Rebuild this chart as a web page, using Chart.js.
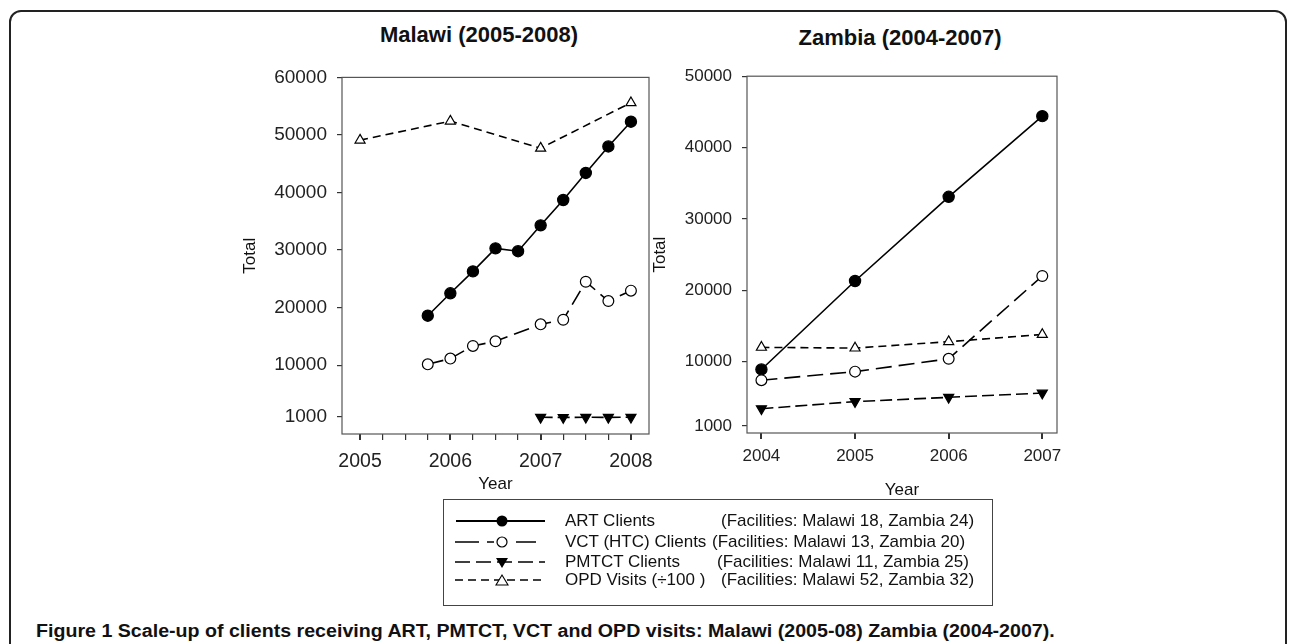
<!DOCTYPE html>
<html lang="en">
<head>
<meta charset="UTF-8" />
<title>Figure 1 - Malawi / Zambia scale-up</title>
<script src="https://cdn.jsdelivr.net/npm/chart.js"></script>
<style>
  body {
    margin: 0;
    width: 1290px;
    height: 644px;
    background: #fff;
    position: relative;
    overflow: hidden;
    font-family: 'Liberation Sans', Arial, sans-serif;
    color: #111;
  }
  .frame {
    position: absolute;
    left: 9px; top: 10px;
    width: 1278px; height: 720px;
    border: 2px solid #222;
    border-radius: 12px;
    box-sizing: border-box;
  }
  .title {
    position: absolute;
    font-weight: bold;
    font-size: 22px;
    line-height: 26px;
    white-space: nowrap;
    transform: translateX(-50%);
  }
  canvas { position: absolute; }
  #legend {
    position: absolute;
    left: 443px; top: 499px;
    width: 550px; height: 107px;
    border: 1.5px solid #444;
    box-sizing: border-box;
  }
  .row { position: absolute; left: 0; width: 100%; height: 20px; font-size: 17px; line-height: 20px; white-space: nowrap; }
  .row svg { position: absolute; left: 10px; top: 0; }
  .row .lab { position: absolute; left: 121px; }
  #caption {
    position: absolute;
    left: 36px; top: 619px;
    font-size: 18px;
    line-height: 24px;
    font-weight: bold;
    white-space: nowrap;
    transform-origin: left center;
  }
</style>
</head>
<body>

<div class="frame"></div>
<div class="title" style="left:479px; top:22px;">Malawi (2005-2008)</div>
<div class="title" style="left:900px; top:25px;">Zambia (2004-2007)</div>

<canvas id="malawiChart" width="433" height="442" style="left:237px; top:56px;"></canvas>
<canvas id="zambiaChart" width="428" height="448" style="left:647px; top:56px;"></canvas>

<div id="legend">
  <div class="row" style="top:11px;">
    <svg width="92" height="20"><line x1="2" y1="10" x2="91" y2="10" stroke="#000" stroke-width="2"/><circle cx="48" cy="10" r="5.5" fill="#000"/></svg>
    <span class="lab">ART Clients</span><span class="lab" style="left:277px;">(Facilities: Malawi 18, Zambia 24)</span>
  </div>
  <div class="row" style="top:32px;">
    <svg width="92" height="20"><line x1="1" y1="10" x2="82" y2="10" stroke="#000" stroke-width="1.6" stroke-dasharray="24,8,7,22,22"/><circle cx="48" cy="10" r="5" fill="#fff" stroke="#000" stroke-width="1.2"/></svg>
    <span class="lab">VCT (HTC) Clients</span><span class="lab" style="left:268px;">(Facilities: Malawi 13, Zambia 20)</span>
  </div>
  <div class="row" style="top:52px;">
    <svg width="92" height="20"><line x1="1" y1="10" x2="91" y2="10" stroke="#000" stroke-width="1.6" stroke-dasharray="15,6"/><path d="M42,6 L54,6 L48,16 Z" fill="#000"/></svg>
    <span class="lab">PMTCT Clients</span><span class="lab" style="left:273px;">(Facilities: Malawi 11, Zambia 25)</span>
  </div>
  <div class="row" style="top:70px;">
    <svg width="92" height="20"><line x1="1" y1="10" x2="91" y2="10" stroke="#000" stroke-width="1.6" stroke-dasharray="8,5"/><path d="M42,15 L54,15 L48,5 Z" fill="#fff" stroke="#000" stroke-width="1.1"/></svg>
    <span class="lab">OPD Visits (÷100 )</span><span class="lab" style="left:277px;">(Facilities: Malawi 52, Zambia 32)</span>
  </div>
</div>

<div id="caption">Figure 1 Scale-up of clients receiving ART, PMTCT, VCT and OPD visits: Malawi (2005-08) Zambia (2004-2007).</div>

<script>
  // ---- Malawi (2005-2008), quarterly
  const malawiArtX   = [2005.75, 2006, 2006.25, 2006.5, 2006.75, 2007, 2007.25, 2007.5, 2007.75, 2008];
  const malawiArt    = [18600, 22500, 26300, 30300, 29800, 34300, 38700, 43400, 48000, 52300];
  const malawiVctX   = [2005.75, 2006, 2006.25, 2006.5, 2007, 2007.25, 2007.5, 2007.75, 2008];
  const malawiVct    = [10150, 11150, 13350, 14150, 17100, 17900, 24500, 21150, 22950];
  const malawiPmtctX = [2007, 2007.25, 2007.5, 2007.75, 2008];
  const malawiPmtct  = [950, 930, 960, 940, 960];
  const malawiOpdX   = [2005, 2006, 2007, 2008];
  const malawiOpd    = [49100, 52400, 47700, 55600];
  const malawiXTicks = [2005, 2005.25, 2005.5, 2005.75, 2006, 2006.25, 2006.5, 2006.75,
                        2007, 2007.25, 2007.5, 2007.75, 2008];
  const malawiYTicks = [1000, 10000, 20000, 30000, 40000, 50000, 60000];

  // ---- Zambia (2004-2007), yearly
  const zambiaYears  = [2004, 2005, 2006, 2007];
  const zambiaArt    = [8900, 21300, 33100, 44400];
  const zambiaVct    = [7400, 8600, 10400, 22000];
  const zambiaPmtct  = [3400, 4400, 5000, 5600];
  const zambiaOpd    = [12000, 11900, 12800, 13800];
  const zambiaYTicks = [1000, 10000, 20000, 30000, 40000, 50000];

  const FONT = "'Liberation Sans', Arial, sans-serif";
  const pts = (xs, ys) => xs.map((x, i) => ({ x: x, y: ys[i] }));

  // serie: stile comune
  function series(label, data, style) {
    return Object.assign({
      label: label,
      data: data,
      borderColor: '#000',
      borderWidth: 1.6,
      pointBorderColor: '#000',
      pointBorderWidth: 1.2,
      pointHoverRadius: 6,
      fill: false,
      tension: 0,
      clip: false
    }, style);
  }
  const artStyle   = { borderDash: [], pointStyle: 'circle', pointRadius: 5.6, pointBackgroundColor: '#000' };
  const vctStyle   = { borderDash: [16, 7], pointStyle: 'circle', pointRadius: 5.4, pointBackgroundColor: '#fff' };
  const pmtctStyle = { borderDash: [12, 5], pointStyle: 'triangle', pointRotation: 180, pointRadius: 5.8, pointBackgroundColor: '#000' };
  const opdStyle   = { borderDash: [8, 5], pointStyle: 'triangle', pointRadius: 5.8, pointBackgroundColor: '#fff' };

  // riquadro attorno all'area del grafico
  const plotBox = {
    id: 'plotBox',
    beforeDatasetsDraw(chart) {
      const { ctx, chartArea: a } = chart;
      ctx.save();
      ctx.strokeStyle = '#555';
      ctx.lineWidth = 1.2;
      ctx.strokeRect(a.left, a.top, a.right - a.left, a.bottom - a.top);
      ctx.restore();
    }
  };

  function buildOptions(cfg) {
    return {
      responsive: false,
      animation: false,
      devicePixelRatio: 1,
      layout: { padding: { top: cfg.padTop, right: cfg.padRight, left: 0, bottom: 0 } },
      plugins: { legend: { display: false }, title: { display: false }, tooltip: { enabled: false } },
      scales: {
        x: {
          type: 'linear',
          min: cfg.xMin, max: cfg.xMax,
          afterBuildTicks: s => { s.ticks = cfg.xTicks.map(v => ({ value: v })); },
          afterFit: s => { s.height = cfg.xHeight; },
          ticks: {
            color: '#222',
            padding: cfg.xPad,
            maxRotation: 0,
            autoSkip: false,
            font: { family: FONT, size: cfg.xFont },
            callback: v => Number.isInteger(v) ? String(v) : ''
          },
          grid: {
            drawOnChartArea: false, drawTicks: true, tickLength: 6, color: '#333',
            lineWidth: c => (c.tick && Number.isInteger(c.tick.value)) ? 2 : 1.2
          },
          border: { display: false },
          title: { display: true, text: 'Year', color: '#111', font: { family: FONT, size: 17 }, padding: { top: 0, bottom: 3 } }
        },
        y: {
          min: cfg.yMin, max: cfg.yMax,
          afterBuildTicks: s => { s.ticks = cfg.yTicks.map(v => ({ value: v })); },
          afterFit: s => { s.width = cfg.yWidth; },
          ticks: {
            color: '#222', padding: 10, autoSkip: false,
            font: { family: FONT, size: cfg.yFont },
            callback: v => String(v)
          },
          grid: { drawOnChartArea: false, drawTicks: true, tickLength: 5, color: '#333', lineWidth: 1.2 },
          border: { display: false },
          title: { display: true, text: 'Total', color: '#111', font: { family: FONT, size: 17 }, padding: { top: 3, bottom: 3 } }
        }
      }
    };
  }

  new Chart(document.getElementById('malawiChart'), {
    type: 'line',
    data: {
      datasets: [
        series('OPD Visits (÷100 )', pts(malawiOpdX, malawiOpd), opdStyle),
        series('PMTCT Clients', pts(malawiPmtctX, malawiPmtct), pmtctStyle),
        series('VCT (HTC) Clients', pts(malawiVctX, malawiVct), vctStyle),
        series('ART Clients', pts(malawiArtX, malawiArt), artStyle)
      ]
    },
    options: buildOptions({
      padTop: 10, padRight: 21, xMin: 2004.8, xMax: 2008.2, xTicks: malawiXTicks,
      xHeight: 64, xPad: 10, xFont: 19.5, yMin: -1950, yMax: 60000, yTicks: malawiYTicks,
      yWidth: 105, yFont: 19
    }),
    plugins: [plotBox]
  });

  new Chart(document.getElementById('zambiaChart'), {
    type: 'line',
    data: {
      datasets: [
        series('OPD Visits (÷100 )', pts(zambiaYears, zambiaOpd), opdStyle),
        series('PMTCT Clients', pts(zambiaYears, zambiaPmtct), pmtctStyle),
        series('VCT (HTC) Clients', pts(zambiaYears, zambiaVct), vctStyle),
        series('ART Clients', pts(zambiaYears, zambiaArt), artStyle)
      ]
    },
    options: buildOptions({
      padTop: 9, padRight: 18, xMin: 2003.846, xMax: 2007.157, xTicks: zambiaYears,
      xHeight: 71, xPad: 7, xFont: 17, yMin: 0, yMax: 50000, yTicks: zambiaYTicks,
      yWidth: 100, yFont: 17
    }),
    plugins: [plotBox]
  });

  // didascalia: carattere un po' stretto come nell'originale
  const cap = document.getElementById('caption');
  cap.style.transform = 'scaleX(' + (1019 / cap.offsetWidth).toFixed(3) + ')';
</script>

</body>
</html>
